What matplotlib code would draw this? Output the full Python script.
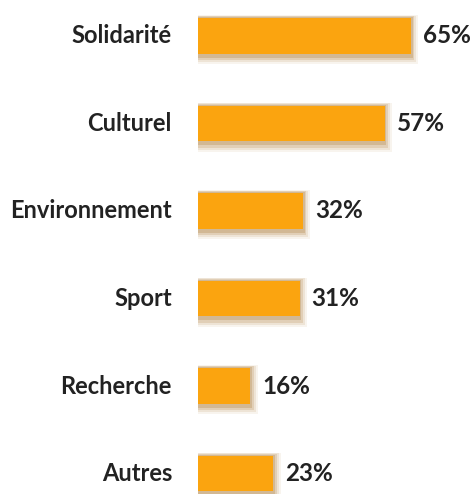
import matplotlib
matplotlib.use("Agg")
import matplotlib.pyplot as plt
from matplotlib.patches import Rectangle

categories = ["Solidarité", "Culturel", "Environnement", "Sport", "Recherche", "Autres"]
values = [65, 57, 32, 31, 16, 23]
value_labels = ["65%", "57%", "32%", "31%", "16%", "23%"]

W, H = 476, 494
fig = plt.figure(figsize=(W / 100, H / 100), dpi=100)
ax = fig.add_axes([198 / W, 0, 1 - 198 / W, 1])
px_per_unit = 213 / 65
ax.set_xlim(0, (W - 198) / px_per_unit)
spacing = 87.5
ax.set_ylim((H - 36) / spacing, -36 / spacing)
ax.axis("off")

bar_h = 0.41
color = "#FBA40F"
font = "Lato"

# soft shadow layers
for i, v in enumerate(values):
    for dx, dy, a in [(2.2, 0.10, 0.08), (1.6, 0.08, 0.12), (1.0, 0.06, 0.18), (0.5, 0.035, 0.25)]:
        ax.add_patch(Rectangle((0, i - bar_h / 2 - dy * 0.3), v + dx, bar_h + dy * 1.5,
                               facecolor="#A8742E", alpha=a, edgecolor="none", zorder=1))

ax.barh(range(len(values)), values, height=bar_h, color=color, zorder=3)

for i, (v, lab) in enumerate(zip(values, value_labels)):
    ax.text(v + 12 / px_per_unit, i, lab, va="center", ha="left", fontsize=17.5,
            fontweight="bold", family=font, color="#222222")
    ax.text(-26 / px_per_unit, i, categories[i], va="center", ha="right", fontsize=17,
            fontweight="bold", family=font, color="#222222", clip_on=False)

fig.savefig("out.png", dpi=100)
